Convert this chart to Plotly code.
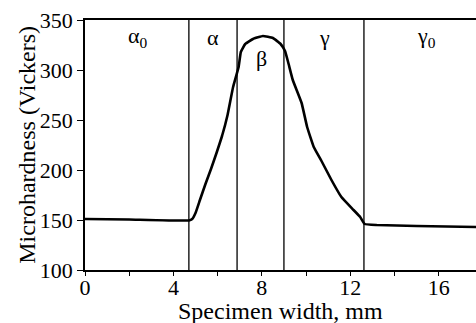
import plotly.graph_objects as go

# Data
width_mm = [0, 2, 4.7, 4.85, 5.0, 5.2, 5.45, 5.7, 5.95, 6.2, 6.45, 6.7, 6.95, 7.05, 7.25,
            7.6, 8.05, 8.5, 8.85, 9.05, 9.2, 9.4, 9.8, 10.05, 10.35, 10.7, 11.15, 11.6,
            12.15, 12.45, 12.65, 13.2, 15, 17.7]
hardness = [151, 150.5, 149.5, 151, 157, 170, 186, 201, 217, 234, 255, 283, 303, 318, 326,
            331, 334, 332, 326, 319, 307, 290, 267, 243, 223, 209, 190, 173,
            160, 153, 146, 145, 144, 143]

boundaries = [4.7, 6.88, 9.0, 12.62]
zone_labels = ["α<sub>0</sub>", "α", "β", "γ", "γ<sub>0</sub>"]
zone_label_x = [2.4, 5.8, 8.0, 10.85, 15.45]
zone_label_y = [333, 333, 312, 333, 333]

x_tickvals = [0, 4, 8, 12, 16]
y_tickvals = [100, 150, 200, 250, 300, 350]

FONT = "Liberation Serif, Times New Roman, serif"

fig = go.Figure()
fig.add_trace(go.Scatter(x=width_mm, y=hardness, mode="lines",
                         line=dict(color="black", width=2.6, shape="spline", smoothing=0.3),
                         showlegend=False, hoverinfo="skip"))

for b in boundaries:
    fig.add_shape(type="line", xref="x", yref="y", x0=b, x1=b, y0=100, y1=350,
                  line=dict(color="black", width=1.3))

for lx, ly, t in zip(zone_label_x, zone_label_y, zone_labels):
    fig.add_annotation(x=lx, y=ly, text=t, showarrow=False, xref="x", yref="y",
                       font=dict(family=FONT, size=22, color="black"))

# axis titles as paper annotations for exact placement
fig.add_annotation(text="Specimen width, mm", xref="paper", yref="paper",
                   x=0.5, y=-0.163, xanchor="center", yanchor="middle", showarrow=False,
                   font=dict(family=FONT, size=24, color="black"))
fig.add_annotation(text="Microhardness (Vickers)", xref="paper", yref="paper",
                   x=-0.149, y=0.5, xanchor="center", yanchor="middle", showarrow=False,
                   textangle=-90, font=dict(family=FONT, size=24, color="black"))

fig.update_layout(
    width=476, height=323,
    margin=dict(l=85, r=0, t=20, b=53, autoexpand=False),
    paper_bgcolor="white", plot_bgcolor="white",
    font=dict(family=FONT, size=22, color="black"),
    xaxis=dict(range=[0, 17.69], tickvals=x_tickvals, ticks="outside", ticklen=4,
               tickwidth=1.3, tickcolor="black", showline=True, linecolor="black", linewidth=1.5,
               mirror=True, showgrid=False, zeroline=False, automargin=False,
               ticklabelstandoff=-7,
               tickfont=dict(family=FONT, size=22, color="black"),
               minor=dict(dtick=2, ticks="outside", ticklen=4, tickwidth=1.3, tickcolor="black")),
    yaxis=dict(range=[100, 350], tickvals=y_tickvals, ticks="outside", ticklen=6,
               tickwidth=1.3, tickcolor="black", showline=True, linecolor="black", linewidth=1.5,
               showgrid=False, zeroline=False, automargin=False,
               tickfont=dict(family=FONT, size=22, color="black")),
)

fig.write_html("out.html", config={"displayModeBar": False},
               post_script="document.body.style.margin='0';")
